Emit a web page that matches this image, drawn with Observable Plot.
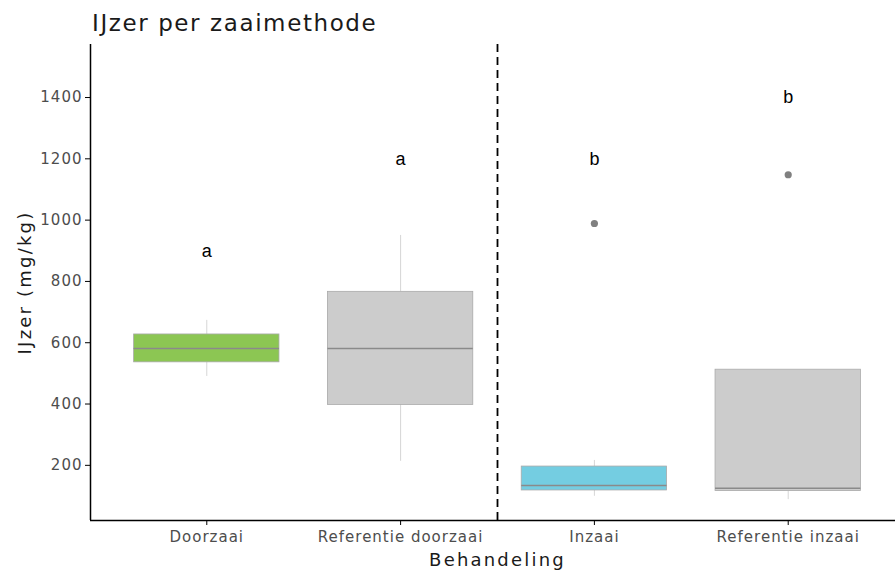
<!DOCTYPE html>
<html>
<head>
<meta charset="utf-8">
<script src="https://cdn.jsdelivr.net/npm/d3@7"></script>
<script src="https://cdn.jsdelivr.net/npm/@observablehq/plot@0.6"></script>
<style>
  body { margin: 0; background: #fff; }
  #title {
    height: 28px;
    padding: 12px 0 0 92px;
    font-family: "DejaVu Sans", sans-serif;
    font-size: 23px;
    line-height: 23px;
    letter-spacing: 1.6px;
    color: #1a1a1a;
    white-space: nowrap;
  }
</style>
</head>
<body>
<div id="title">IJzer per zaaimethode</div>
<div id="chart"></div>
<script>
// Treatments, in axis order
const categories = ["Doorzaai", "Referentie doorzaai", "Inzaai", "Referentie inzaai"];

// Box summaries per treatment (mg/kg)
const q1 = [536, 397, 118, 116];
const median = [581, 581, 134, 125];
const q3 = [627, 766, 196, 512];
const whiskerLow = [490, 213, 99, 88];
const whiskerHigh = [673, 950, 216, 512];

// Outliers
const outlierGroup = ["Inzaai", "Referentie inzaai"];
const outlierValue = [989, 1148];

// Significance letters and the height they are printed at
const letters = ["a", "a", "b", "b"];
const letterHeight = [900, 1200, 1200, 1400];

// Y axis ticks
const yTicks = [200, 400, 600, 800, 1000, 1200, 1400];

// Fill per treatment
const boxColors = ["#8cc653", "#cccccc", "#74cde1", "#cccccc"];

const positions = categories.map((c, i) => i + 1);
const boxes = categories.map((c, i) => ({
  category: c, pos: positions[i],
  q1: q1[i], median: median[i], q3: q3[i],
  lo: whiskerLow[i], hi: whiskerHigh[i],
  letter: letters[i], letterY: letterHeight[i], color: boxColors[i]
}));
const outliers = outlierGroup.map((g, i) => ({pos: categories.indexOf(g) + 1, value: outlierValue[i]}));

const halfWidth = 0.375;
const xDomain = [0.4, categories.length + 0.6];
const yDomain = [20, 1573];
// dashed separator between the doorzaai and inzaai groups
const separator = categories.indexOf("Inzaai") + 0.5;

const chart = Plot.plot({
  width: 895,
  height: 534,
  marginLeft: 90,
  marginRight: 0,
  marginTop: 4,
  marginBottom: 54,
  style: {
    fontFamily: "DejaVu Sans, sans-serif",
    fontSize: "15px",
    letterSpacing: "1px",
    color: "#000",
    background: "white"
  },
  x: {domain: xDomain, range: [90, 904], ticks: positions, tickFormat: p => categories[p - 1],
      tickSize: 5, tickPadding: 6, label: null},
  y: {domain: yDomain, ticks: yTicks, tickFormat: d => String(d), tickSize: 5, tickPadding: 3, label: null},
  color: {type: "identity"},
  marks: [
    // whiskers
    Plot.ruleX(boxes, {x: "pos", y1: "q3", y2: "hi", stroke: "#d6d6d6", strokeWidth: 1}),
    Plot.ruleX(boxes, {x: "pos", y1: "lo", y2: "q1", stroke: "#d6d6d6", strokeWidth: 1}),
    // boxes
    Plot.rect(boxes, {x1: d => d.pos - halfWidth, x2: d => d.pos + halfWidth, y1: "q1", y2: "q3",
      fill: d => d.color, stroke: "#aaaaaa", strokeWidth: 0.8}),
    // medians
    Plot.ruleY(boxes, {y: "median", x1: d => d.pos - halfWidth, x2: d => d.pos + halfWidth,
      stroke: "#8a8a8a", strokeWidth: 1.6}),
    // outliers
    Plot.dot(outliers, {x: "pos", y: "value", r: 3.6, fill: "#808080"}),
    // significance letters
    Plot.text(boxes, {x: "pos", y: "letterY", text: "letter", fill: "#000",
      fontFamily: "Liberation Sans, Arial, sans-serif", fontSize: 18}),
    // group separator
    Plot.ruleX([separator], {stroke: "#000", strokeWidth: 1.8, strokeDasharray: "8,5"}),
    // axis lines
    Plot.ruleY([yDomain[0]], {stroke: "#000", strokeWidth: 1.5}),
    Plot.ruleX([xDomain[0]], {stroke: "#000", strokeWidth: 1.5}),
    // axis titles
    Plot.text(["Behandeling"], {frameAnchor: "bottom", text: d => d, textAnchor: "middle",
      lineAnchor: "middle", dy: 40, dx: 4.5, fontSize: 18, fill: "#1a1a1a"}),
    Plot.text(["IJzer (mg/kg)"], {frameAnchor: "left", text: d => d, textAnchor: "middle",
      lineAnchor: "middle", rotate: -90, dx: -65, fontSize: 18, fill: "#1a1a1a"})
  ]
});

const svg = d3.select(chart);
// tick labels in grey
svg.selectAll('g[aria-label^="x-axis"] text, g[aria-label^="y-axis"] text').attr("fill", "#4d4d4d");
// wider spacing for the axis titles, none for the letters
svg.selectAll("text")
  .filter(function () { return this.textContent === "Behandeling" || this.textContent === "IJzer (mg/kg)"; })
  .style("letter-spacing", "2.2px");
svg.selectAll("text")
  .filter(function () { return letters.includes(this.textContent); })
  .style("letter-spacing", "0px");

document.getElementById("chart").appendChild(chart);
</script>
</body>
</html>
